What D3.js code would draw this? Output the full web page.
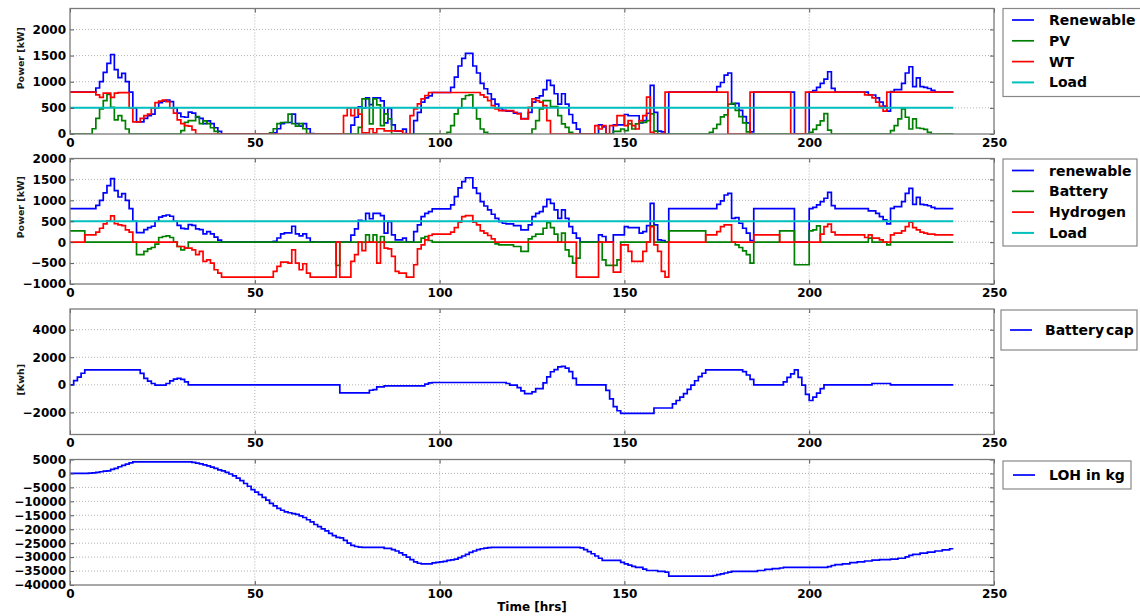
<!DOCTYPE html>
<html>
<head>
<meta charset="utf-8">
<script src="https://cdnjs.cloudflare.com/ajax/libs/d3/7.8.5/d3.min.js"></script>
<style>
  body { margin: 0; background: #fff; }
  svg { display: block; }
  text { font-family: "DejaVu Sans", "Liberation Sans", sans-serif; }
</style>
</head>
<body>
<svg id="chart" width="1140" height="616"></svg>
<script>
// Hourly step series, stored as [hour, value] change points; each value holds until the next change.
const END_HOUR = 239;

const renewable = [[0,800],[7,880],[8,1000],[9,1180],[10,1350],[11,1520],[12,1230],[13,1080],[14,1160],[15,1000],[16,800],[17,500],[18,230],[20,300],[21,350],[22,380],[23,500],[24,600],[25,630],[26,650],[27,620],[28,500],[29,400],[30,330],[31,320],[32,420],[33,400],[34,320],[35,300],[36,200],[37,250],[38,200],[39,120],[40,50],[41,0],
  [55,20],[56,100],[57,200],[58,220],[60,380],[61,200],[62,150],[63,200],[64,100],[65,10],[66,0],
  [76,170],[77,320],[78,520],[79,500],[80,690],[81,560],[82,690],[84,635],[85,214],[86,490],[87,175],[88,56],[90,95],[91,0],[93,254],[94,413],[95,611],[96,690],[97,730],[98,794],[103,890],[104,1087],[105,1300],[106,1445],[107,1540],[109,1300],[110,1167],[111,968],[112,865],[113,770],[114,667],[115,571],[116,490],[117,452],[118,437],[120,397],[122,294],[124,413],[125,611],[126,690],[127,730],[128,850],[129,1024],[130,929],[131,770],[132,571],[133,770],[134,571],[135,373],[136,214],[137,95],[138,0],
  [143,175],[144,135],[145,0],[147,175],[150,373],[151,349],[152,349],[154,214],[155,254],[156,397],[157,929],[158,413],[159,56],[160,40],[161,0],[162,800],[175,905],[176,985],[177,1127],[178,1167],[179,571],[180,587],[181,452],[182,333],[183,214],[184,40],[185,800],[196,0],[200,800],[201,830],[202,890],[203,970],[204,1050],[205,1190],[206,873],[207,800],[216,746],[218,690],[219,611],[220,532],[221,437],[222,810],[223,850],[225,968],[226,1167],[227,1286],[228,905],[229,1072],[230,905],[231,890],[232,870],[233,834],[234,800]];

const pv = [[0,0],[6,100],[7,300],[8,480],[9,640],[10,755],[11,512],[12,269],[13,352],[14,256],[15,96],[16,0],
  [30,64],[31,224],[32,256],[34,333],[35,200],[36,250],[37,200],[38,120],[39,50],[40,0],
  [54,20],[55,100],[56,200],[57,220],[59,380],[60,200],[61,150],[62,200],[63,100],[64,10],[65,0],
  [78,128],[79,672],[81,192],[82,672],[83,557],[84,160],[85,384],[86,288],[87,0],
  [102,32],[103,160],[104,384],[105,499],[106,672],[107,736],[108,749],[109,499],[110,288],[111,96],[112,32],[113,0],
  [125,96],[126,256],[127,480],[128,640],[130,525],[132,352],[133,192],[134,128],[135,32],[136,0],
  [147,50],[149,96],[150,64],[151,192],[152,96],[153,192],[154,224],[156,256],[157,384],[158,56],[159,0],
  [173,30],[174,105],[175,185],[176,327],[177,367],[178,571],[179,587],[180,452],[181,333],[182,214],[183,40],[184,0],
  [200,30],[201,90],[202,170],[203,250],[204,390],[205,73],[206,0],
  [222,64],[223,160],[224,288],[225,480],[226,320],[227,96],[228,288],[229,115],[230,105],[231,90],[232,32],[233,0]];

const wt = [[0,800],[7,750],[8,700],[9,780],[11,700],[12,780],[13,790],[16,500],[17,230],[19,300],[20,350],[21,380],[22,500],[23,600],[24,630],[25,650],[26,620],[27,500],[28,400],[29,270],[30,200],[31,160],[32,150],[33,80],[34,0],
  [74,350],[75,500],[76,350],[77,500],[78,380],[79,20],[81,100],[82,20],[83,100],[85,60],[89,60],[90,10],[91,0],[92,350],[93,480],[94,576],[95,672],[96,736],[97,794],[111,749],[112,704],[113,640],[114,544],[115,480],[116,448],[120,416],[121,384],[122,288],[124,512],[125,672],[126,640],[127,608],[128,544],[129,256],[130,0],
  [142,160],[143,96],[144,160],[145,0],[146,160],[148,352],[150,160],[151,256],[152,160],[153,96],[154,256],[155,352],[156,704],[157,30],[158,0],[161,800],[178,0],[184,800],[195,0],[199,800],[215,750],[217,690],[218,610],[219,530],[220,437],[221,800]];

const load = [[0,500]];

const battery = [[0,270],[4,0],[18,-300],[20,-222],[21,-160],[22,-127],[23,-48],[24,111],[25,135],[26,150],[27,111],[28,0],[29,-103],[30,-183],[31,-143],[32,0],
  [72,-556],[73,0],[80,175],[81,0],[82,175],[83,0],[84,135],[85,0],[95,95],[96,135],[97,40],[98,0],
  [115,-40],[116,-64],[120,-103],[122,-222],[124,80],[125,135],[126,190],[128,333],[129,468],[130,349],[131,190],[132,0],[133,214],[134,-183],[135,-341],[136,-500],[137,-381],[138,0],
  [144,-421],[145,-556],[148,-421],[149,0],[157,389],[158,0],[162,270],[172,0],[180,-64],[181,-127],[182,-206],[183,-300],[184,-500],[185,0],[192,270],[196,-540],[200,270],[201,294],[202,389],[203,0],[216,95],[217,0],[221,-64],[222,0]];

const hydrogen = [[0,0],[4,175],[7,238],[8,333],[9,437],[10,508],[11,627],[12,445],[13,413],[14,397],[15,294],[16,238],[17,0],
  [29,-103],[31,-143],[33,-183],[34,-300],[35,-222],[36,-460],[37,-421],[38,-500],[39,-659],[40,-738],[41,-834],
  [55,-700],[56,-580],[57,-476],[59,-500],[60,-183],[61,-500],[62,-659],[63,-516],[64,-738],[65,-834],[72,0],[73,-834],
  [76,-460],[77,-300],[78,0],[79,-200],[80,0],[83,-500],[84,0],[85,-143],[86,-160],[87,-341],[88,-700],[89,-738],[91,-834],[93,-540],[94,-159],[95,-64],[96,56],[97,159],[98,190],[103,238],[104,349],[105,476],[106,611],[107,635],[109,476],[110,413],[111,270],[112,214],[113,159],[114,80],[115,0],
  [137,-834],[143,0],[147,-715],[149,-64],[151,-222],[152,-460],[155,-222],[156,0],[157,373],[158,-64],[159,-222],[160,-700],[161,-834],[162,0],
  [172,175],[175,254],[176,373],[177,413],[179,0],[185,175],[192,0],[203,190],[204,373],[205,429],[206,238],[207,175],[215,111],[216,175],[217,95],[219,56],[220,0],
  [222,175],[223,214],[225,270],[226,373],[227,476],[228,349],[229,294],[230,238],[231,214],[232,190],[234,175]];

const batteryCap = [[0,0],[1,313],[2,554],[3,843],[4,1080],[19,830],[20,464],[21,268],[22,98],[23,-24],[26,98],[27,293],[28,415],[29,464],[30,390],[31,220],[32,0],
  [73,-586],[81,-390],[82,-342],[83,-146],[85,-73],[96,49],[97,146],[98,171],[118,98],[119,-24],[121,-195],[122,-439],[123,-634],[125,-512],[126,-268],[128,146],[129,585],[130,951],[131,1100],[132,1300],[133,1334],[134,1210],[135,963],[136,470],[137,0],
  [145,-395],[146,-1013],[147,-1580],[148,-1877],[149,-2075],[158,-1680],[163,-1383],[164,-1136],[165,-889],[166,-642],[167,-321],[168,-25],[169,296],[170,593],[171,840],[172,1080],[182,963],[183,716],[184,395],[185,0],
  [193,222],[194,543],[195,790],[196,1080],[197,543],[198,-25],[199,-692],[200,-1136],[201,-889],[202,-593],[203,-272],[204,0],[217,99],[222,0]];

const loh = [[0,0],[5,100],[6,240],[7,400],[8,600],[9,800],[10,950],[11,1430],[12,1800],[13,2400],[14,2860],[15,3330],[16,3810],[17,4170],
  [33,4000],[34,3700],[35,3400],[36,3100],[37,2700],[38,2300],[39,1800],[40,1300],[41,900],[42,400],[43,-200],[44,-900],[45,-1700],[46,-2600],[47,-3600],[48,-4600],[49,-5800],[50,-6700],[51,-7600],[52,-8600],[53,-9600],[54,-10700],[55,-11600],[56,-12500],[57,-13200],[58,-13800],[59,-14100],[60,-14400],[61,-14700],[62,-15200],[63,-15800],[64,-16600],[65,-17400],[66,-18300],[67,-19100],[68,-19900],[69,-20600],[70,-21500],[71,-22300],[72,-22900],[73,-23100],[74,-24000],[75,-25000],[76,-25800],[77,-26200],[78,-26400],[79,-26500],
  [85,-26900],[87,-27300],[88,-27800],[89,-28500],[90,-29200],[91,-30000],[92,-30900],[93,-31700],[94,-32200],[95,-32400],[98,-32100],[99,-31900],[100,-31700],[101,-31500],[102,-31200],[103,-31000],[104,-30700],[105,-30200],[106,-29600],[107,-29000],[108,-28300],[109,-27800],[110,-27300],[111,-27000],[112,-26800],[113,-26600],[114,-26500],
  [138,-26700],[139,-27300],[140,-28000],[141,-28800],[142,-29600],[143,-30400],[144,-31200],[149,-31900],[150,-32400],[151,-32900],[152,-33300],[153,-33700],[155,-34300],[156,-34800],[159,-35100],[161,-35400],[162,-36800],
  [174,-36600],[175,-36300],[176,-36000],[177,-35700],[178,-35400],[179,-35100],[186,-34800],[188,-34400],[190,-34100],[192,-33900],[193,-33700],[205,-33400],[206,-33000],[207,-32700],[209,-32400],[211,-32000],[213,-31700],[215,-31400],[217,-31100],[219,-30900],[222,-30700],[224,-30400],[226,-29900],[227,-29400],[228,-29000],[230,-28600],[232,-28200],[234,-27800],[236,-27400],[238,-27000]];

// Axis ticks
const xTicks = [0, 50, 100, 150, 200, 250];
const powerTicksTop = [0, 500, 1000, 1500, 2000];
const powerTicksMid = [-1000, -500, 0, 500, 1000, 1500, 2000];
const capTicks = [-2000, 0, 2000, 4000];
const lohTicks = [-40000, -35000, -30000, -25000, -20000, -15000, -10000, -5000, 0, 5000];

const COLORS = { blue: "#0000ff", green: "#008000", red: "#ff0000", cyan: "#00bfbf" };

const svg = d3.select("#chart");
const left = 70, right = 994, panelH = 125.5;

const x = d3.scaleLinear().domain([0, 250]).range([left, right]);

const panels = [
  { top: 8.5, domain: [0, 2400], ticks: powerTicksTop, ylabel: "Power [kW]", ylabelY: -13,
    series: [
      { data: renewable, color: COLORS.blue, label: "Renewable" },
      { data: pv, color: COLORS.green, label: "PV" },
      { data: wt, color: COLORS.red, label: "WT" },
      { data: load, color: COLORS.cyan, label: "Load", width: 2 }],
    legend: { x: 1003, y: 8.5, w: 142, h: 88, lineX: 1012, textX: 1049 } },
  { top: 158.5, domain: [-1000, 2000], ticks: powerTicksMid, ylabel: "Power [kW]", ylabelY: -14,
    series: [
      { data: renewable, color: COLORS.blue, label: "renewable" },
      { data: battery, color: COLORS.green, label: "Battery" },
      { data: hydrogen, color: COLORS.red, label: "Hydrogen" },
      { data: load, color: COLORS.cyan, label: "Load", width: 2 }],
    legend: { x: 1003, y: 159, w: 134, h: 87, lineX: 1012, textX: 1049 } },
  { top: 309, domain: [-3600, 5500], ticks: capTicks, ylabel: "[Kwh]", ylabelY: 8,
    series: [{ data: batteryCap, color: COLORS.blue, label: "Battery cap" }],
    legend: { x: 1001, y: 310, w: 136, h: 40, lineX: 1010, textX: 1045 } },
  { top: 459.5, domain: [-40000, 5000], ticks: lohTicks, ylabel: null,
    series: [{ data: loh, color: COLORS.blue, label: "LOH in kg" }],
    legend: { x: 1003, y: 461, w: 128, h: 28, lineX: 1013, textX: 1049 } }
];

const withEnd = steps => steps.concat([[END_HOUR, steps[steps.length - 1][1]]]);

panels.forEach(p => {
  const bottom = p.top + panelH;
  const y = d3.scaleLinear().domain(p.domain).range([bottom, p.top]);
  const g = svg.append("g");

  // dotted grid
  g.append("g").selectAll("line").data(xTicks.slice(1, -1)).join("line")
    .attr("x1", d => x(d)).attr("x2", d => x(d)).attr("y1", p.top).attr("y2", bottom)
    .attr("stroke", "#a0a0a0").attr("stroke-width", 0.8).attr("stroke-dasharray", "1,2");
  g.append("g").selectAll("line").data(p.ticks.filter(t => y(t) > p.top + 1 && y(t) < bottom - 1)).join("line")
    .attr("x1", left).attr("x2", right).attr("y1", d => y(d)).attr("y2", d => y(d))
    .attr("stroke", "#a0a0a0").attr("stroke-width", 0.8).attr("stroke-dasharray", "1,2");

  // series lines
  const line = d3.line().x(d => x(d[0])).y(d => y(d[1])).curve(d3.curveStepAfter);
  const clipId = "clip" + Math.round(p.top);
  svg.append("clipPath").attr("id", clipId).append("rect")
    .attr("x", left).attr("y", p.top).attr("width", right - left).attr("height", panelH);
  const lines = g.append("g").attr("clip-path", `url(#${clipId})`);
  p.series.forEach(s => {
    lines.append("path").attr("d", line(withEnd(s.data)))
      .attr("fill", "none").attr("stroke", s.color).attr("stroke-width", s.width || 1.7)
      .attr("stroke-linejoin", "miter");
  });

  // axes with inward ticks
  const yAxis = g.append("g").attr("transform", `translate(${left},0)`)
    .call(d3.axisLeft(y).tickValues(p.ticks).tickFormat(d3.format("d")).tickSize(-4).tickPadding(4));
  const xAxis = g.append("g").attr("transform", `translate(0,${bottom})`)
    .call(d3.axisBottom(x).tickValues(xTicks).tickFormat(d3.format("d")).tickSize(-4).tickPadding(4));
  g.append("g").attr("transform", `translate(${right},0)`)
    .call(d3.axisRight(y).tickValues(p.ticks).tickFormat("").tickSize(-4));
  g.append("g").attr("transform", `translate(0,${p.top})`)
    .call(d3.axisTop(x).tickValues(xTicks).tickFormat("").tickSize(-4));
  g.selectAll(".domain").remove();
  g.selectAll(".tick line").attr("stroke", "#555");
  [yAxis, xAxis].forEach(a => a.selectAll("text")
    .attr("font-size", 12).attr("font-weight", "bold").attr("fill", "#000")
    .attr("font-family", "'DejaVu Sans', sans-serif"));

  // frame
  g.append("rect").attr("x", left).attr("y", p.top).attr("width", right - left).attr("height", panelH)
    .attr("fill", "none").attr("stroke", "#7a7a7a").attr("stroke-width", 1.3);

  if (p.ylabel) {
    const cy = p.top + panelH / 2 + p.ylabelY;
    g.append("text").attr("transform", `translate(24,${cy}) rotate(-90)`)
      .attr("text-anchor", "middle").attr("font-size", 9.5).attr("font-weight", "bold")
      .attr("fill", "#1a1a1a")
      .text(p.ylabel);
  }

  // legend
  const L = p.legend;
  const lg = svg.append("g");
  lg.append("rect").attr("x", L.x).attr("y", L.y).attr("width", L.w).attr("height", L.h)
    .attr("fill", "#fff").attr("stroke", "#888").attr("stroke-width", 1.2);
  const rowH = 20.8;
  const first = L.y + (p.series.length > 1 ? 11.5 : L.h / 2);
  p.series.forEach((s, i) => {
    const ry = first + i * rowH;
    lg.append("line").attr("x1", L.lineX).attr("x2", L.lineX + 22).attr("y1", ry).attr("y2", ry)
      .attr("stroke", s.color).attr("stroke-width", s.width || 1.7);
    lg.append("text").attr("x", L.textX).attr("y", ry + 5)
      .attr("font-size", 14).attr("font-weight", "bold").attr("fill", "#000")
      .attr("word-spacing", s.label === "Battery cap" ? "-3px" : null)
      .text(s.label);
  });
});

svg.append("text").attr("x", (left + right) / 2).attr("y", 611)
  .attr("text-anchor", "middle").attr("font-size", 12).attr("font-weight", "bold")
  .text("Time [hrs]");
</script>
</body>
</html>
